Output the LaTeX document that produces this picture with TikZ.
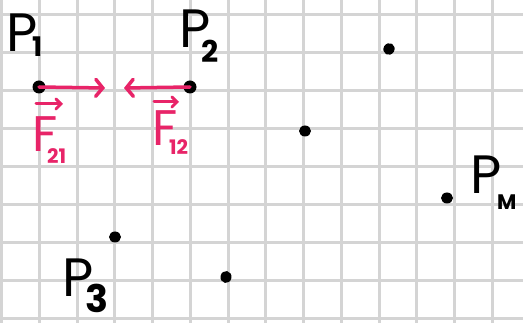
\documentclass[tikz,border=0pt]{standalone}
\usepackage{fontspec}
\setmainfont{Poppins}
\usetikzlibrary{arrows.meta,shapes.geometric}
\definecolor{gridgray}{RGB}{212,212,212}
\definecolor{fpink}{RGB}{232,36,104}
\begin{document}
\begin{tikzpicture}[x=1pt,y=-1pt,
  gridline/.style={gridgray,line width=3pt},
  dot/.style={ellipse,fill=black,inner sep=0pt,minimum width=12pt,minimum height=11pt},
  plabel/.style={inner sep=0pt,anchor=base west,font=\fontsize{54}{54}\selectfont},
  psub/.style={inner sep=0pt,anchor=base west,font=\fontsize{27}{27}\selectfont\bfseries},
  flabel/.style={inner sep=0pt,anchor=base west,text=fpink,font=\fontsize{50}{50}\selectfont},
  fsub/.style={inner sep=0pt,anchor=base west,text=fpink,font=\fontsize{20}{20}\selectfont\bfseries},
  force/.style={fpink,line width=3.5pt,line cap=round,line join=round,-{Straight Barb[length=7pt,width=17pt,line cap=round]}},
  vecarrow/.style={fpink,line width=3pt,line cap=round,line join=round,-{Straight Barb[length=5pt,width=10pt,line cap=round]}}
]
\useasboundingbox (0,0) rectangle (523,323);
\fill[white] (0,0) rectangle (523,323);
% grid
\foreach \k in {0,...,13} {
  \draw[gridline] ({1.5+37.75*\k},0) -- ({1.5+37.75*\k},323);
}
\foreach \k in {0,...,8} {
  \draw[gridline] (0,{14.5+38*\k}) -- (523,{14.5+38*\k});
}
% points
\node[dot,minimum width=13pt,minimum height=13pt] (p1) at (39,87) {};
\node[dot,minimum width=13pt,minimum height=13pt] (p2) at (190,87) {};
\node[dot,rotate=60] (q1) at (389,49) {};
\node[dot] (q2) at (305,131) {};
\node[dot] (pm) at (447,198) {};
\node[dot] (p3) at (115,237) {};
\node[dot,rotate=80] (q3) at (226,277) {};
% labels
\node[plabel] (lp1) at (6,52) {P};
\node[psub] (lp1s) at (32,57) {1};
\node[plabel] (lp2) at (179,48) {P};
\node[psub,font=\fontsize{30}{30}\selectfont\bfseries] (lp2s) at (201,63) {2};
\node[plabel] (lp3) at (62,297) {P};
\node[psub,font=\fontsize{38}{38}\selectfont\bfseries] (lp3s) at (85,313) {3};
\node[plabel] (lpm) at (470,194) {P};
\node[psub,font=\fontsize{21}{21}\selectfont\bfseries] (lpms) at (497,210) {M};
% forces
\coordinate (t1) at (105,88);
\coordinate (t2) at (124,88);
\draw[force] (p1.center) -- (t1);
\draw[force] (p2.center) -- (t2);
\node[flabel] (f21) at (32,152) {F};
\node[fsub] (f21s) at (47,164) {21};
\node[flabel] (f12) at (152,146) {F};
\node[fsub] (f12s) at (169,155) {12};
\coordinate (a1s) at (36,104);
\coordinate (a1e) at (63,104);
\coordinate (a2s) at (154,102);
\coordinate (a2e) at (179,102);
\draw[vecarrow] (a1s) -- (a1e);
\draw[vecarrow] (a2s) -- (a2e);
\end{tikzpicture}
\end{document}
